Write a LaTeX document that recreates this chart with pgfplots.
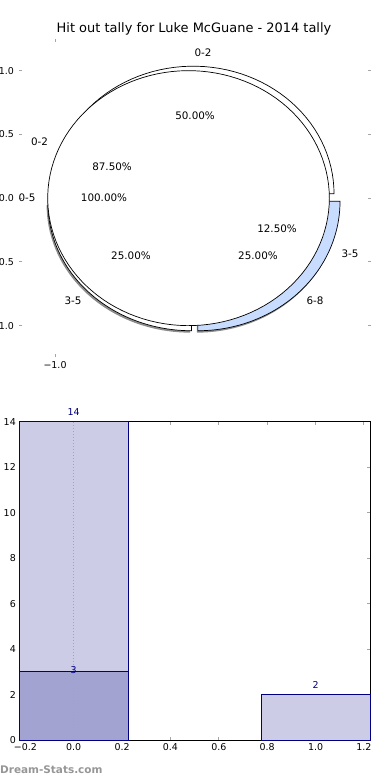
\documentclass[border=0pt]{standalone}
\usepackage{fontspec}
\setmainfont{DejaVu Sans}
\usepackage{pgfplots}
\pgfplotsset{compat=1.18}
\definecolor{navyc}{RGB}{0,0,128}
\definecolor{lightbar}{RGB}{204,204,230}
\definecolor{darkbar}{RGB}{163,163,209}
\definecolor{ringblue}{RGB}{200,220,255}
\definecolor{tickgray}{RGB}{165,165,165}
\definecolor{shadowgray}{RGB}{140,140,140}
\definecolor{wmgray}{RGB}{150,150,150}
\begin{document}
\begin{tikzpicture}[x=1bp,y=1bp]
\useasboundingbox (0,0) rectangle (390,780);
\node[font=\fontsize{13}{15}\selectfont] at (194,750.7) {Hit out tally for Luke McGuane - 2014 tally};
% ---------------- top: pie ----------------
\begin{axis}[
  at={(21bp,424bp)}, anchor=south west, scale only axis,
  width=348bp, height=315.3bp,
  xmin=-1.255, xmax=1.352, ymin=-1.238, ymax=1.235,
  axis line style={draw=none},
  xtick={-1}, xticklabels={−1.0},
  ytick={-1,-0.5,0,0.5,1}, yticklabels={−1.0,−0.5,0.0,0.5,1.0},
  tick style={tickgray, line width=1bp},
  major tick length=3bp, tick align=center,
  xtick pos=both, ytick pos=both,
  ticklabel style={font=\fontsize{9.5}{11}\selectfont},
  yticklabel style={xshift=-2bp},
  clip=false,
]
% shadows
\addplot[draw=none, fill=shadowgray, domain=180:270, samples=50, variable=\t]
  ({0.012+1.075*cos(\t)}, {-0.055+1.0*sin(\t)}) -- (axis cs:0.012,-0.055) -- cycle;
\addplot[draw=none, fill=shadowgray, domain=270:360, samples=50, variable=\t]
  ({0.062+1.065*cos(\t)}, {-0.04+1.015*sin(\t)}) -- (axis cs:0.062,-0.04) -- cycle;
% 3-5 (25%)
\addplot[draw=black, line width=0.7bp, fill=white, domain=180:270, samples=50, variable=\t]
  ({0.022+1.075*cos(\t)}, {-0.04+1.0*sin(\t)}) -- (axis cs:0.022,-0.04) -- cycle;
% 6-8 (25%)
\addplot[draw=black, line width=0.7bp, fill=ringblue, domain=270:360, samples=50, variable=\t]
  ({0.07+1.065*cos(\t)}, {-0.025+1.015*sin(\t)}) -- (axis cs:0.07,-0.025) -- cycle;
% 0-2 (50%)
\addplot[draw=black, line width=0.7bp, fill=white, domain=0:180, samples=60, variable=\t]
  ({0.035+1.055*cos(\t)}, {0.035+1.0*sin(\t)}) -- (axis cs:0.035,0.035) -- cycle;
% 0-5 (100%)
\addplot[draw=black, line width=0.7bp, fill=white, domain=0:360, samples=120, variable=\t]
  ({1.055*cos(\t)}, {1.0*sin(\t)}) -- cycle;
% labels
\begin{scope}[every node/.style={font=\fontsize{10.4}{12}\selectfont}]
\node at (axis cs:0.109,1.139) {0-2};
\node at (axis cs:0.049,0.645) {50.00\%};
\node at (axis cs:-1.116,0.441) {0-2};
\node at (axis cs:-0.573,0.245) {87.50\%};
\node at (axis cs:-1.21,0) {0-5};
\node at (axis cs:-0.633,0) {100.00\%};
\node at (axis cs:0.663,-0.242) {12.50\%};
\node at (axis cs:1.21,-0.438) {3-5};
\node at (axis cs:0.52,-0.453) {25.00\%};
\node at (axis cs:0.948,-0.806) {6-8};
\node at (axis cs:-0.431,-0.453) {25.00\%};
\node at (axis cs:-0.865,-0.806) {3-5};
\end{scope}
\end{axis}
% ---------------- bottom: bars ----------------
\begin{axis}[
  at={(19.3bp,40bp)}, anchor=south west, scale only axis,
  width=350.7bp, height=318.3bp,
  xmin=-0.225, xmax=1.225, ymin=0, ymax=14,
  xtick={-0.2,0,0.2,0.4,0.6,0.8,1.0,1.2},
  xticklabels={−0.2,0.0,0.2,0.4,0.6,0.8,1.0,1.2},
  ytick={0,2,4,6,8,10,12,14},
  yticklabels={0,2,4,6,8,10,12,14},
  tick style={tickgray, line width=1bp},
  major tick length=3bp, tick align=inside,
  xtick pos=both, ytick pos=both,
  ticklabel style={font=\fontsize{9.5}{11}\selectfont},
  axis line style={black, line width=0.8bp},
  clip=false,
]
\addplot[ybar, bar width=0.45, bar shift=0pt, fill=lightbar, draw=navyc, line width=0.7bp]
  coordinates {(0,14) (1,2)};
\addplot[ybar, bar width=0.45, bar shift=0pt, fill=darkbar, draw=navyc, line width=0.7bp]
  coordinates {(0,3)};
\addplot[tickgray, dotted, line width=1bp] coordinates {(0,0) (0,14)};
\begin{scope}[every node/.style={font=\fontsize{9.5}{11}\selectfont, text=navyc}]
\node[yshift=9.5bp] at (axis cs:0,14) {14};
\node[yshift=2bp] at (axis cs:0,3) {3};
\node[yshift=9.5bp] at (axis cs:1,2) {2};
\end{scope}
\end{axis}
\node[anchor=west, inner sep=0pt, text=wmgray, font=\bfseries\fontsize{10.5}{12}\selectfont] at (0,10) {Dream-Stats.com};
\end{tikzpicture}
\end{document}
